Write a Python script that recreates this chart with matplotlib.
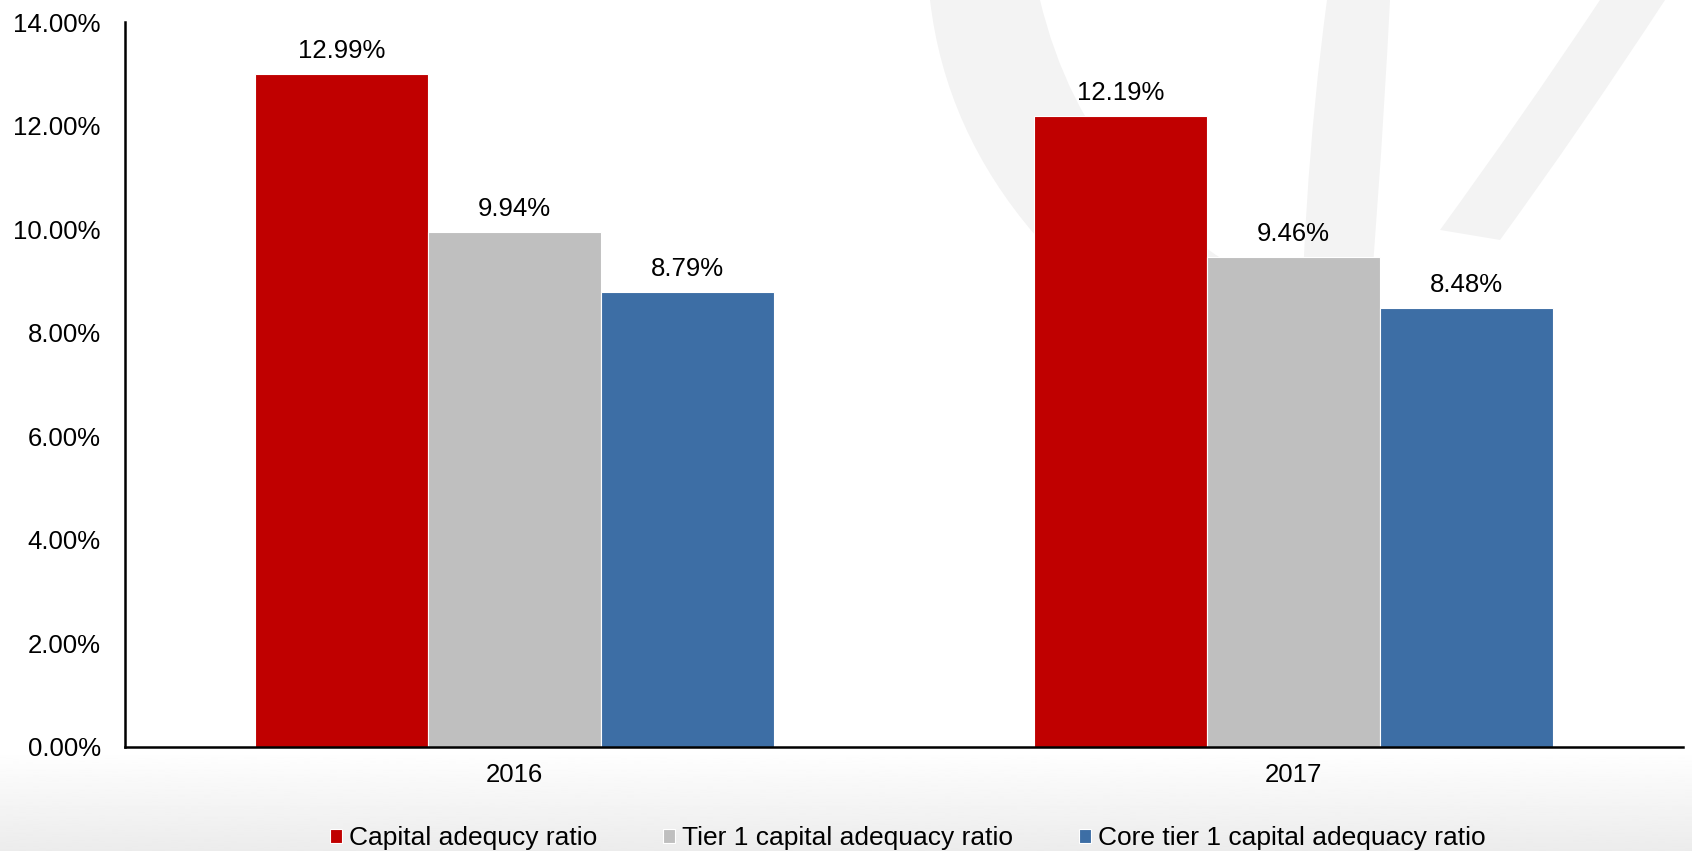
import numpy as np
import matplotlib
matplotlib.use("Agg")
import matplotlib.pyplot as plt
from matplotlib.path import Path
from matplotlib.patches import PathPatch
from matplotlib.ticker import FuncFormatter, MultipleLocator

# Data
years = ["2016", "2017"]
series_names = [
    "Capital adequcy ratio",
    "Tier 1 capital adequacy ratio",
    "Core tier 1 capital adequacy ratio",
]
capital_ratio = [12.99, 12.19]
tier1_ratio = [9.94, 9.46]
core_tier1_ratio = [8.79, 8.48]
series_values = [capital_ratio, tier1_ratio, core_tier1_ratio]
colors = ["#C00000", "#BFBFBF", "#3D6EA5"]

plt.rcParams["font.family"] = ["Liberation Sans", "DejaVu Sans"]

W, H = 1692, 851
fig = plt.figure(figsize=(W / 100, H / 100), dpi=100)
fig.patch.set_facecolor("white")

# Background layer in pixel coordinates: soft grey fade at the bottom and a faint logo
bg = fig.add_axes([0, 0, 1, 1], zorder=0)
bg.set_xlim(0, W)
bg.set_ylim(H, 0)
bg.axis("off")
grad = np.linspace(0, 1, 200).reshape(-1, 1) ** 0.9
bg.imshow(1 - 0.075 * grad, cmap="gray", vmin=0, vmax=1,
          extent=(0, W, H, 752), aspect="auto", interpolation="bilinear")

wm = "#f3f3f3"
def band(outer, inner):
    verts = outer + inner[::-1] + [outer[0]]
    codes = ([Path.MOVETO] + [Path.CURVE3] * (len(outer) - 1) +
             [Path.LINETO] + [Path.CURVE3] * (len(inner) - 1) + [Path.CLOSEPOLY])
    return PathPatch(Path(verts, codes), facecolor=wm, edgecolor="none")

bg.add_patch(band([(930, 0), (960, 260), (1290, 420)],
                  [(1040, 0), (1090, 210), (1300, 300)]))
bg.add_patch(band([(1327, 0), (1300, 200), (1300, 420)],
                  [(1390, 0), (1380, 200), (1360, 420)]))
bg.add_patch(band([(1600, 0), (1520, 120), (1440, 230)],
                  [(1665, 0), (1580, 130), (1500, 240)]))

# Main chart
ax = fig.add_axes([125 / W, 1 - 746.7 / H, (1683 - 125) / W, (746.7 - 22) / H], zorder=1)
ax.set_facecolor("none")

x = np.arange(len(years))
width = 0.222
offsets = [-width, 0, width]
handles = []
for name, vals, col, off in zip(series_names, series_values, colors, offsets):
    bars = ax.bar(x + off, vals, width, color=col, edgecolor="white",
                  linewidth=0.8, label=name, zorder=2)
    handles.append(bars)
    for xi, v in zip(x + off, vals):
        ax.annotate(f"{v:.2f}%", (xi, v), xytext=(0, 11.5), textcoords="offset points",
                    ha="center", va="baseline", fontsize=18.5, color="#000000")

ax.set_xlim(-0.5, 1.5)
ax.set_ylim(0, 14)
ax.yaxis.set_major_locator(MultipleLocator(2))
ax.yaxis.set_major_formatter(FuncFormatter(lambda v, p: f"{v:.2f}%"))
ax.set_xticks(x)
ax.set_xticklabels(years)
ax.tick_params(axis="y", length=0, pad=17.5, labelsize=18.5, labelcolor="#000000")
ax.tick_params(axis="x", length=0, pad=11.5, labelsize=18.5, labelcolor="#000000")
for s in ["top", "right"]:
    ax.spines[s].set_visible(False)
for s in ["left", "bottom"]:
    ax.spines[s].set_color("#000000")
    ax.spines[s].set_linewidth(1.8)

fig.legend(handles, series_names, loc="center", bbox_to_anchor=(908 / W, 1 - 838 / H),
           ncol=3, frameon=False, fontsize=19, handlelength=0.45, handleheight=0.45,
           handletextpad=0.27, columnspacing=2.5, borderpad=0, borderaxespad=0)

fig.savefig("out.png", dpi=100, facecolor=fig.get_facecolor())
